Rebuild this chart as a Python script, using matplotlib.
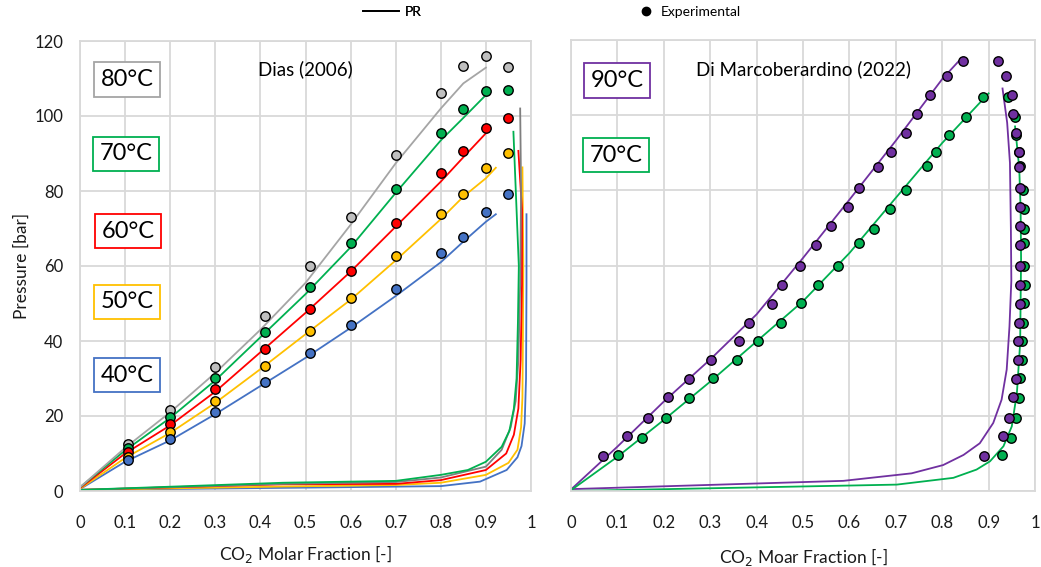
import matplotlib
matplotlib.use("Agg")
import matplotlib.pyplot as plt
from matplotlib.lines import Line2D

plt.rcParams['font.family'] = ['Lato', 'DejaVu Sans']

# ---- Dias (2006), experimental points (same x for every temperature)
dias_x = [0.106, 0.2, 0.3, 0.41, 0.51, 0.6, 0.7, 0.8, 0.85, 0.9, 0.95]
dias_p40 = [8.2, 13.8, 21.1, 29.0, 36.9, 44.4, 53.8, 63.4, 67.8, 74.4, 79.2]
dias_p50 = [9.2, 15.8, 24.0, 33.3, 42.7, 51.6, 62.8, 74.0, 79.3, 86.2, 90.1]
dias_p60 = [10.3, 17.8, 27.1, 37.8, 48.5, 58.8, 71.6, 84.8, 90.6, 96.9, 99.4]
dias_p70 = [11.4, 19.7, 30.1, 42.4, 54.4, 66.2, 80.6, 95.5, 102.0, 106.8, 106.9]
dias_p80 = [12.6, 21.7, 33.2, 46.7, 60.1, 73.2, 89.5, 106.1, 113.4, 116.1, 113.1]

# ---- Dias (2006), PR bubble curves
pr_bub_x = [0, 0.1, 0.2, 0.3, 0.4, 0.5, 0.6, 0.7, 0.8, 0.85, 0.9]
pr_bub_x_long = [0, 0.1, 0.2, 0.3, 0.4, 0.5, 0.6, 0.7, 0.8, 0.85, 0.9, 0.922]
pr_bub40 = [0.5, 7.8, 13.5, 20.5, 28, 35.5, 43.5, 52, 61, 66.5, 71.8, 73.8]
pr_bub50 = [0.6, 8.8, 15.5, 23.5, 32.5, 41.8, 51, 61.5, 72.5, 78.5, 83.4, 86.2]
pr_bub60 = [0.8, 10, 17.5, 26.5, 37, 47.5, 58.5, 70.5, 82.5, 89, 95.4]
pr_bub70 = [1, 10.8, 19.5, 29.5, 41, 52.5, 65, 79.5, 93.5, 99.5, 105.6]
pr_bub80 = [1, 11.5, 21, 31.5, 43, 55.5, 71, 87.4, 102, 108.7, 112.9]

# ---- Dias (2006), PR dew curves
pr_dew40_x = [0, 0.5, 0.8, 0.887, 0.946, 0.97, 0.979, 0.986, 0.989, 0.990, 0.990]
pr_dew40_p = [0.3, 0.9, 1.3, 2.5, 5.6, 9, 12, 18, 30, 55, 73.8]
pr_dew50_x = [0, 0.45, 0.7, 0.8, 0.9, 0.95, 0.970, 0.978, 0.981, 0.982, 0.983, 0.981]
pr_dew50_p = [0.3, 1.2, 1.6, 2.2, 4.3, 7.5, 11, 17, 25, 40, 60, 86.3]
pr_dew60_x = [0, 0.45, 0.7, 0.8, 0.9, 0.945, 0.962, 0.972, 0.977, 0.980, 0.980, 0.972]
pr_dew60_p = [0.3, 1.8, 1.9, 2.9, 5.6, 10, 15, 22, 35, 55, 75, 90.7]
pr_dew70_x = [0, 0.45, 0.7, 0.8, 0.86, 0.9, 0.935, 0.952, 0.962, 0.968, 0.971, 0.973, 0.961]
pr_dew70_p = [0.3, 2.2, 2.7, 4.3, 5.6, 7.8, 11.8, 16, 22, 30, 45, 60, 95.8]
pr_dew80_x = [0, 0.45, 0.7, 0.8, 0.9, 0.935, 0.955, 0.966, 0.972, 0.976, 0.978, 0.976]
pr_dew80_p = [0.3, 1.9, 2.4, 3.6, 6.5, 11, 17, 24, 35, 55, 80, 102]

# ---- Di Marcoberardino (2022), experimental points
dm_p90 = [9.3, 14.7, 19.4, 25.0, 29.7, 34.8, 39.8, 44.8, 49.7, 54.8, 59.8,
          65.4, 70.6, 75.6, 80.7, 86.1, 90.1, 95.3, 100.2, 105.3, 110.4, 114.4]
dm_bub90 = [0.070, 0.121, 0.165, 0.210, 0.254, 0.302, 0.361, 0.384, 0.433, 0.455, 0.494,
            0.528, 0.560, 0.596, 0.621, 0.661, 0.690, 0.722, 0.746, 0.774, 0.811, 0.844]
dm_dew90 = [0.890, 0.932, 0.943, 0.953, 0.958, 0.963, 0.964, 0.966, 0.968, 0.967, 0.967,
            0.968, 0.968, 0.967, 0.967, 0.966, 0.965, 0.958, 0.953, 0.951, 0.9375, 0.920]
dm_p70 = [9.6, 14.2, 19.3, 24.7, 30.1, 34.8, 39.8, 44.8, 49.9, 54.9,
          60.0, 66.0, 69.8, 75.0, 80.1, 86.5, 90.1, 94.7, 99.6, 104.9]
dm_bub70 = [0.102, 0.154, 0.204, 0.254, 0.306, 0.357, 0.403, 0.453, 0.495, 0.533,
            0.575, 0.621, 0.652, 0.687, 0.722, 0.768, 0.786, 0.815, 0.851, 0.889]
dm_dew70 = [0.928, 0.948, 0.958, 0.966, 0.968, 0.971, 0.973, 0.975, 0.977, 0.978,
            0.977, 0.977, 0.977, 0.977, 0.975, 0.967, 0.966, 0.959, 0.957, 0.941]

# ---- Di Marcoberardino (2022), PR curves
dm_pr_bub90_x = [0, 0.1, 0.2, 0.3, 0.4, 0.5, 0.6, 0.7, 0.8, 0.835]
dm_pr_bub90_p = [0.4, 11.8, 23.8, 35, 47, 62, 77.5, 93.2, 109.6, 114.3]
dm_pr_dew90_x = [0, 0.587, 0.734, 0.802, 0.846, 0.881, 0.910, 0.928, 0.939, 0.945, 0.949, 0.948, 0.946, 0.940, 0.930]
dm_pr_dew90_p = [0.5, 2.7, 4.7, 6.9, 9.6, 12.7, 18.1, 24.3, 32.3, 43.8, 56, 70, 87.3, 98, 107.1]
dm_pr_bub70_x = [0, 0.1, 0.2, 0.3, 0.4, 0.5, 0.6, 0.7, 0.8, 0.9]
dm_pr_bub70_p = [0.2, 9.1, 18.9, 29.1, 39.8, 50.5, 63.3, 78, 92.6, 105.8]
dm_pr_dew70_x = [0, 0.702, 0.824, 0.874, 0.903, 0.932, 0.950, 0.961, 0.968, 0.970, 0.969, 0.966, 0.957]
dm_pr_dew70_p = [0, 1.7, 3.5, 5.7, 7.9, 11.9, 17.2, 26.1, 39.4, 61.6, 75, 86, 97]

x_ticks = [0, 0.1, 0.2, 0.3, 0.4, 0.5, 0.6, 0.7, 0.8, 0.9, 1]
y_ticks = [0, 20, 40, 60, 80, 100, 120]

BLUE, YELLOW, RED, GREEN, GRAY, PURPLE = '#4472c4', '#ffc000', '#ff0000', '#00b050', '#a5a5a5', '#7030a0'
GRID = '#d9d9d9'
W, H = 1041, 567

fig = plt.figure(figsize=(W / 100, H / 100), dpi=100)


def px_rect(x0, y0, x1, y1):
    # pixel box (top-left origin) -> figure fraction
    return [x0 / W, 1 - y1 / H, (x1 - x0) / W, (y1 - y0) / H]


def style_axes(ax, show_y):
    ax.set_xlim(0, 1)
    ax.set_ylim(0, 120)
    ax.set_xticks(x_ticks)
    ax.set_xticklabels([f"{v:g}" for v in x_ticks])
    ax.set_yticks(y_ticks)
    ax.grid(True, color=GRID, lw=1.3)
    ax.set_axisbelow(True)
    for s in ax.spines.values():
        s.set_color(GRID)
        s.set_linewidth(1.3)
    ax.tick_params(length=0, labelsize=12, colors='#1a1a1a')
    ax.tick_params(axis='x', pad=17)
    ax.tick_params(axis='y', pad=12)
    if not show_y:
        ax.tick_params(axis='y', labelleft=False)


def dots(ax, x, y, c):
    ax.plot(x, y, 'o', ls='none', ms=6.8, mfc=c, mec='black', mew=1.0, zorder=5)


def box(x, y, s, c):
    fig.text(x / W, 1 - y / H, s, ha='center', va='center', fontsize=17, color='black',
             bbox=dict(boxstyle='square,pad=0.28', fc='white', ec=c, lw=1.3))


# ------------------ left panel
ax1 = fig.add_axes(px_rect(80, 41, 531, 491))
style_axes(ax1, True)
lw = 1.3
ax1.plot(pr_dew40_x, pr_dew40_p, color=BLUE, lw=lw)
ax1.plot(pr_dew50_x, pr_dew50_p, color=YELLOW, lw=lw)
ax1.plot(pr_dew60_x, pr_dew60_p, color=RED, lw=lw)
ax1.plot(pr_dew80_x, pr_dew80_p, color='#7f7f7f', lw=lw)
ax1.plot(pr_dew70_x, pr_dew70_p, color=GREEN, lw=lw)
ax1.plot(pr_bub_x_long, pr_bub40, color=BLUE, lw=lw)
ax1.plot(pr_bub_x_long, pr_bub50, color=YELLOW, lw=lw)
ax1.plot(pr_bub_x, pr_bub60, color=RED, lw=lw)
ax1.plot(pr_bub_x, pr_bub70, color=GREEN, lw=lw)
ax1.plot(pr_bub_x, pr_bub80, color=GRAY, lw=lw)
dots(ax1, dias_x, dias_p80, '#bfbfbf')
dots(ax1, dias_x, dias_p70, GREEN)
dots(ax1, dias_x, dias_p60, RED)
dots(ax1, dias_x, dias_p50, YELLOW)
dots(ax1, dias_x, dias_p40, BLUE)
ax1.set_ylabel('Pressure [bar]', fontsize=12.5, labelpad=3, color='#1a1a1a')
ax1.set_xlabel('CO$_2$ Molar Fraction [-]', fontsize=12.5, labelpad=9, color='#1a1a1a')
ax1.text(0.5, 0.938, 'Dias (2006)', transform=ax1.transAxes, ha='center', va='center', fontsize=13.5)

# ------------------ right panel
ax2 = fig.add_axes(px_rect(571, 40, 1035, 491))
style_axes(ax2, False)
ax2.plot(dm_pr_dew90_x, dm_pr_dew90_p, color=PURPLE, lw=lw)
ax2.plot(dm_pr_dew70_x, dm_pr_dew70_p, color=GREEN, lw=lw)
ax2.plot(dm_pr_bub90_x, dm_pr_bub90_p, color=PURPLE, lw=lw)
ax2.plot(dm_pr_bub70_x, dm_pr_bub70_p, color=GREEN, lw=lw)
dots(ax2, dm_bub70, dm_p70, GREEN)
dots(ax2, dm_dew70, dm_p70, GREEN)
dots(ax2, dm_bub90, dm_p90, PURPLE)
dots(ax2, dm_dew90, dm_p90, PURPLE)
ax2.set_xlabel('CO$_2$ Moar Fraction [-]', fontsize=12.5, labelpad=11, color='#1a1a1a')
ax2.text(0.5, 0.935, 'Di Marcoberardino (2022)', transform=ax2.transAxes, ha='center', va='center', fontsize=13.5)

# temperature boxes
box(127, 79.5, '80°C', GRAY)
box(126, 154, '70°C', GREEN)
box(128, 231, '60°C', RED)
box(127, 302, '50°C', YELLOW)
box(127, 375, '40°C', BLUE)
box(617, 80.5, '90°C', PURPLE)
box(616, 155, '70°C', GREEN)

# legend (two separate entries, placed like the original)
leg1 = fig.legend([Line2D([], [], color='black', lw=1.3)], ['PR'], loc='center',
                  bbox_to_anchor=(392 / W, 1 - 12 / H), frameon=False, fontsize=10,
                  handlelength=2.6, handletextpad=0.4)
fig.legend([Line2D([], [], marker='o', ls='none', color='black', ms=6)], ['Experimental'],
           loc='center', bbox_to_anchor=(690 / W, 1 - 12 / H), frameon=False, fontsize=10,
           handlelength=1.0, handletextpad=0.5)
fig.add_artist(leg1)

fig.savefig('out.png', dpi=100)
